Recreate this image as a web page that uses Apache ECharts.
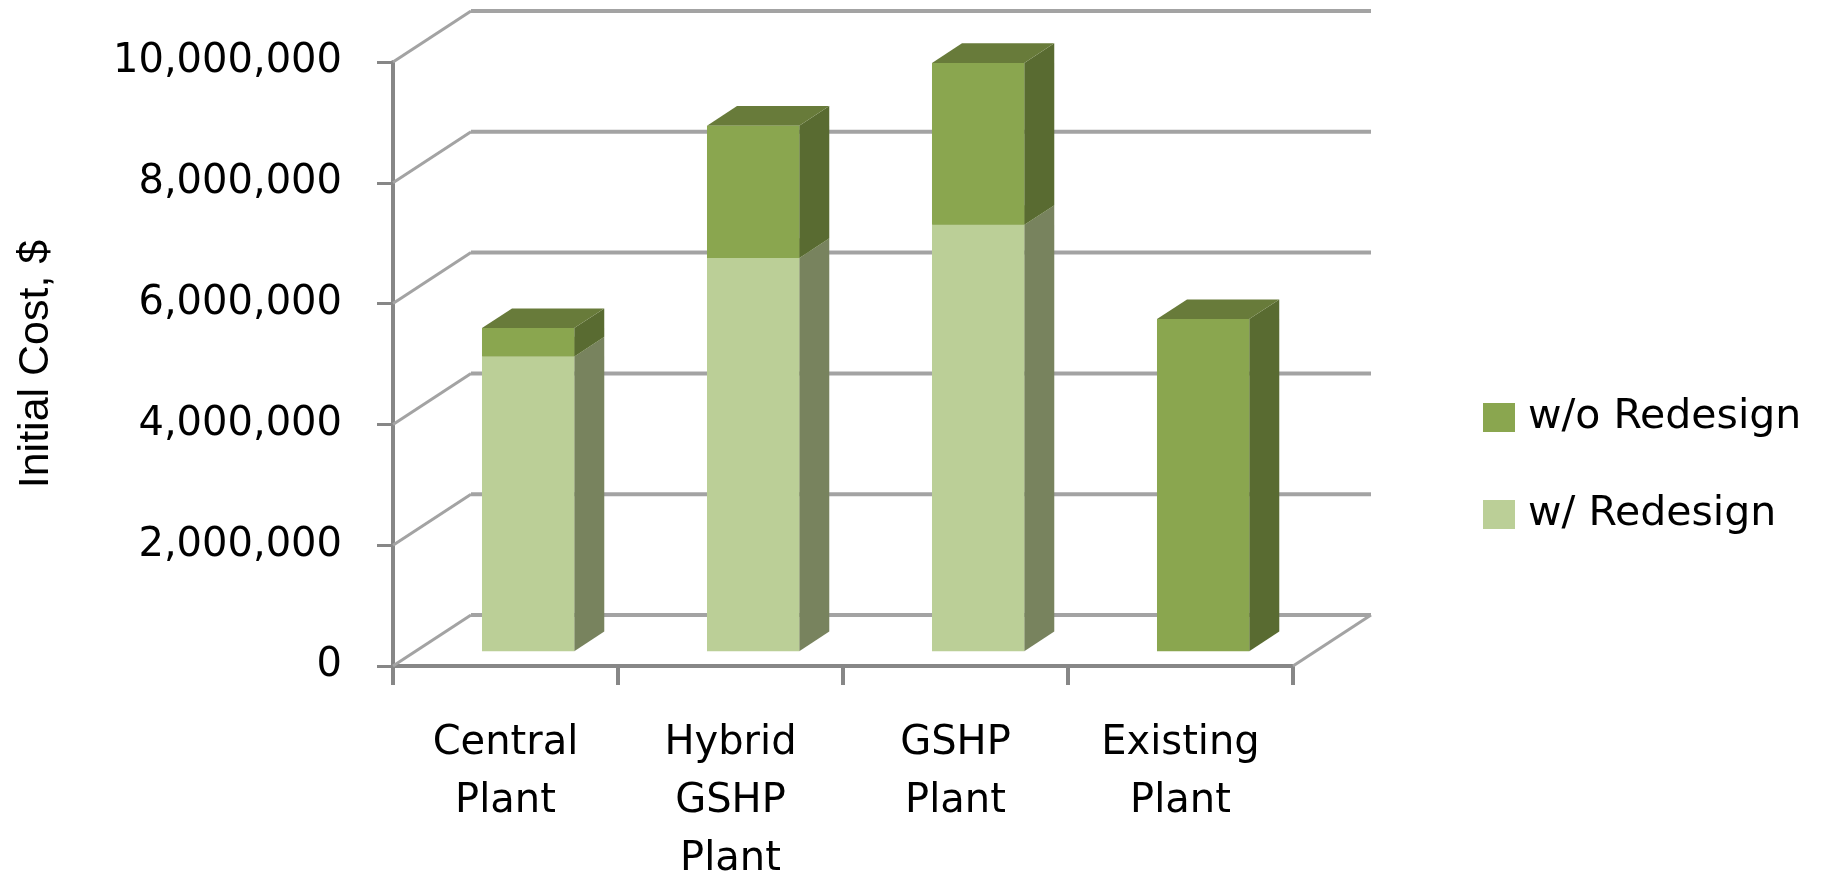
<!DOCTYPE html>
<html>
<head>
<meta charset="utf-8">
<script src="https://cdn.jsdelivr.net/npm/echarts@6/dist/echarts.min.js"></script>
<style>
  html, body { margin: 0; padding: 0; background: #fff; }
  #chart { width: 1823px; height: 874px; }
</style>
</head>
<body>
<div id="chart"></div>
<script>
// Initial cost of each plant option, stacked: cost with redesign, plus the extra without it
const categories = ['Central Plant', 'Hybrid GSHP Plant', 'GSHP Plant', 'Existing Plant'];
const withRedesign = [4880000, 6510000, 7060000, 0];
const withoutRedesignExtra = [470000, 2190000, 2680000, 5500000];
const valueTicks = [0, 2000000, 4000000, 6000000, 8000000, 10000000];
const seriesNames = ['w/ Redesign', 'w/o Redesign'];
const legendOrder = ['w/o Redesign', 'w/ Redesign'];

// Oblique 3-D box: offset from the front plane to the back wall
const DEPTH = [78, -51];
// columns occupy this slice of the box depth and this share of a category band
const COL_FRONT = 0.29;
const COL_BACK = 0.675;
const COL_WIDTH = 0.41;

const FACE_COLORS = {
  'w/ Redesign': { front: '#BBCF97', side: '#78835E', top: '#A3B77F' },
  'w/o Redesign': { front: '#8AA64F', side: '#596B31', top: '#687B3A' }
};
const WALL_COLOR = '#a3a3a3';
const AXIS_COLOR = '#878787';

// side-wall diagonal plus back-wall gridline for one value tick
function wallItem(params, api) {
  const v = api.value(1);
  const cs = params.coordSys;
  const y = api.coord([0, v])[1];
  const x0 = cs.x;
  const x1 = cs.x + cs.width;
  const bx0 = x0 + DEPTH[0];
  const bx1 = x1 + DEPTH[0];
  const by = y + DEPTH[1];
  const children = [
    { type: 'line', shape: { x1: x0, y1: y, x2: bx0, y2: by },
      style: { stroke: WALL_COLOR, lineWidth: 3 } },
    { type: 'line', shape: { x1: bx0, y1: by, x2: bx1, y2: by },
      style: { stroke: WALL_COLOR, lineWidth: 4 } }
  ];
  if (v === valueTicks[0]) {
    // right edge of the floor
    children.push({ type: 'line', shape: { x1: x1, y1: y, x2: bx1, y2: by },
      style: { stroke: WALL_COLOR, lineWidth: 3 } });
  }
  return { type: 'group', children: children };
}

// one stacked segment of a 3-D column: front, side and top faces
function columnItem(params, api) {
  const i = api.value(0);
  const lo = api.value(1);
  const hi = api.value(2);
  if (!(hi > lo)) return;
  const c = FACE_COLORS[params.seriesName];
  const band = api.size([1, 0])[0];
  const cx = api.coord([i, 0])[0];
  const w = band * COL_WIDTH;
  const fx = DEPTH[0] * COL_FRONT, fy = DEPTH[1] * COL_FRONT;
  const sx = DEPTH[0] * (COL_BACK - COL_FRONT), sy = DEPTH[1] * (COL_BACK - COL_FRONT);
  const xl = cx - w / 2 + fx;
  const xr = cx + w / 2 + fx;
  const yb = api.coord([i, lo])[1] + fy;
  const yt = api.coord([i, hi])[1] + fy;
  return {
    type: 'group',
    children: [
      { type: 'polygon', shape: { points: [[xr, yb], [xr + sx, yb + sy], [xr + sx, yt + sy], [xr, yt]] },
        style: { fill: c.side } },
      { type: 'polygon', shape: { points: [[xl, yt], [xr, yt], [xr + sx, yt + sy], [xl + sx, yt + sy]] },
        style: { fill: c.top } },
      { type: 'rect', shape: { x: xl, y: yt, width: xr - xl, height: yb - yt },
        style: { fill: c.front } }
    ]
  };
}

const lowerData = categories.map((c, i) => [i, 0, withRedesign[i]]);
const upperData = categories.map((c, i) => [i, withRedesign[i], withRedesign[i] + withoutRedesignExtra[i]]);

const chart = echarts.init(document.getElementById('chart'));
chart.setOption({
  animation: false,
  backgroundColor: '#ffffff',
  grid: {
    left: 393, right: 530, top: 62, bottom: 208,
    containLabel: false, outerBoundsMode: 'none'
  },
  legend: {
    orient: 'vertical',
    left: 1483, top: 397, padding: 0,
    selectedMode: false,
    itemWidth: 32, itemHeight: 29, itemGap: 56,
    data: legendOrder.map(n => ({ name: n, icon: 'rect', itemStyle: { color: FACE_COLORS[n].front } })),
    textStyle: { fontFamily: 'DejaVu Sans', fontSize: 41, color: '#000', lineHeight: 29, padding: [0, 0, 0, 8] }
  },
  xAxis: {
    type: 'category',
    data: categories,
    boundaryGap: true,
    axisLine: { show: true, lineStyle: { color: AXIS_COLOR, width: 4 } },
    axisTick: { show: true, length: 19, lineStyle: { color: AXIS_COLOR, width: 4 } },
    axisLabel: {
      interval: 0, margin: 49,
      fontFamily: 'DejaVu Sans', fontSize: 40, lineHeight: 58, color: '#000',
      formatter: s => s.split(' ').join('\n')
    },
    splitLine: { show: false }
  },
  yAxis: {
    type: 'value',
    min: valueTicks[0], max: valueTicks[valueTicks.length - 1],
    interval: valueTicks[1] - valueTicks[0],
    name: 'Initial Cost, $',
    nameLocation: 'middle', nameRotate: 90, nameGap: 335,
    nameTextStyle: { fontFamily: 'Liberation Sans', fontSize: 43, color: '#000' },
    axisLine: { show: true, lineStyle: { color: AXIS_COLOR, width: 4 } },
    axisTick: { show: true, length: 16, lineStyle: { color: AXIS_COLOR, width: 3 } },
    axisLabel: {
      margin: 51, fontFamily: 'DejaVu Sans', fontSize: 40, color: '#000',
      formatter: v => v.toLocaleString('en-US')
    },
    splitLine: { show: false }
  },
  series: [
    {
      type: 'custom', name: 'walls', z: 1, silent: true,
      renderItem: wallItem,
      encode: { x: 0, y: 1 },
      data: valueTicks.map(v => [0, v])
    },
    {
      type: 'custom', name: seriesNames[0], z: 2,
      itemStyle: { color: FACE_COLORS[seriesNames[0]].front },
      renderItem: columnItem,
      encode: { x: 0, y: [1, 2] },
      data: lowerData
    },
    {
      type: 'custom', name: seriesNames[1], z: 3,
      itemStyle: { color: FACE_COLORS[seriesNames[1]].front },
      renderItem: columnItem,
      encode: { x: 0, y: [1, 2] },
      data: upperData
    }
  ]
});
</script>
</body>
</html>
